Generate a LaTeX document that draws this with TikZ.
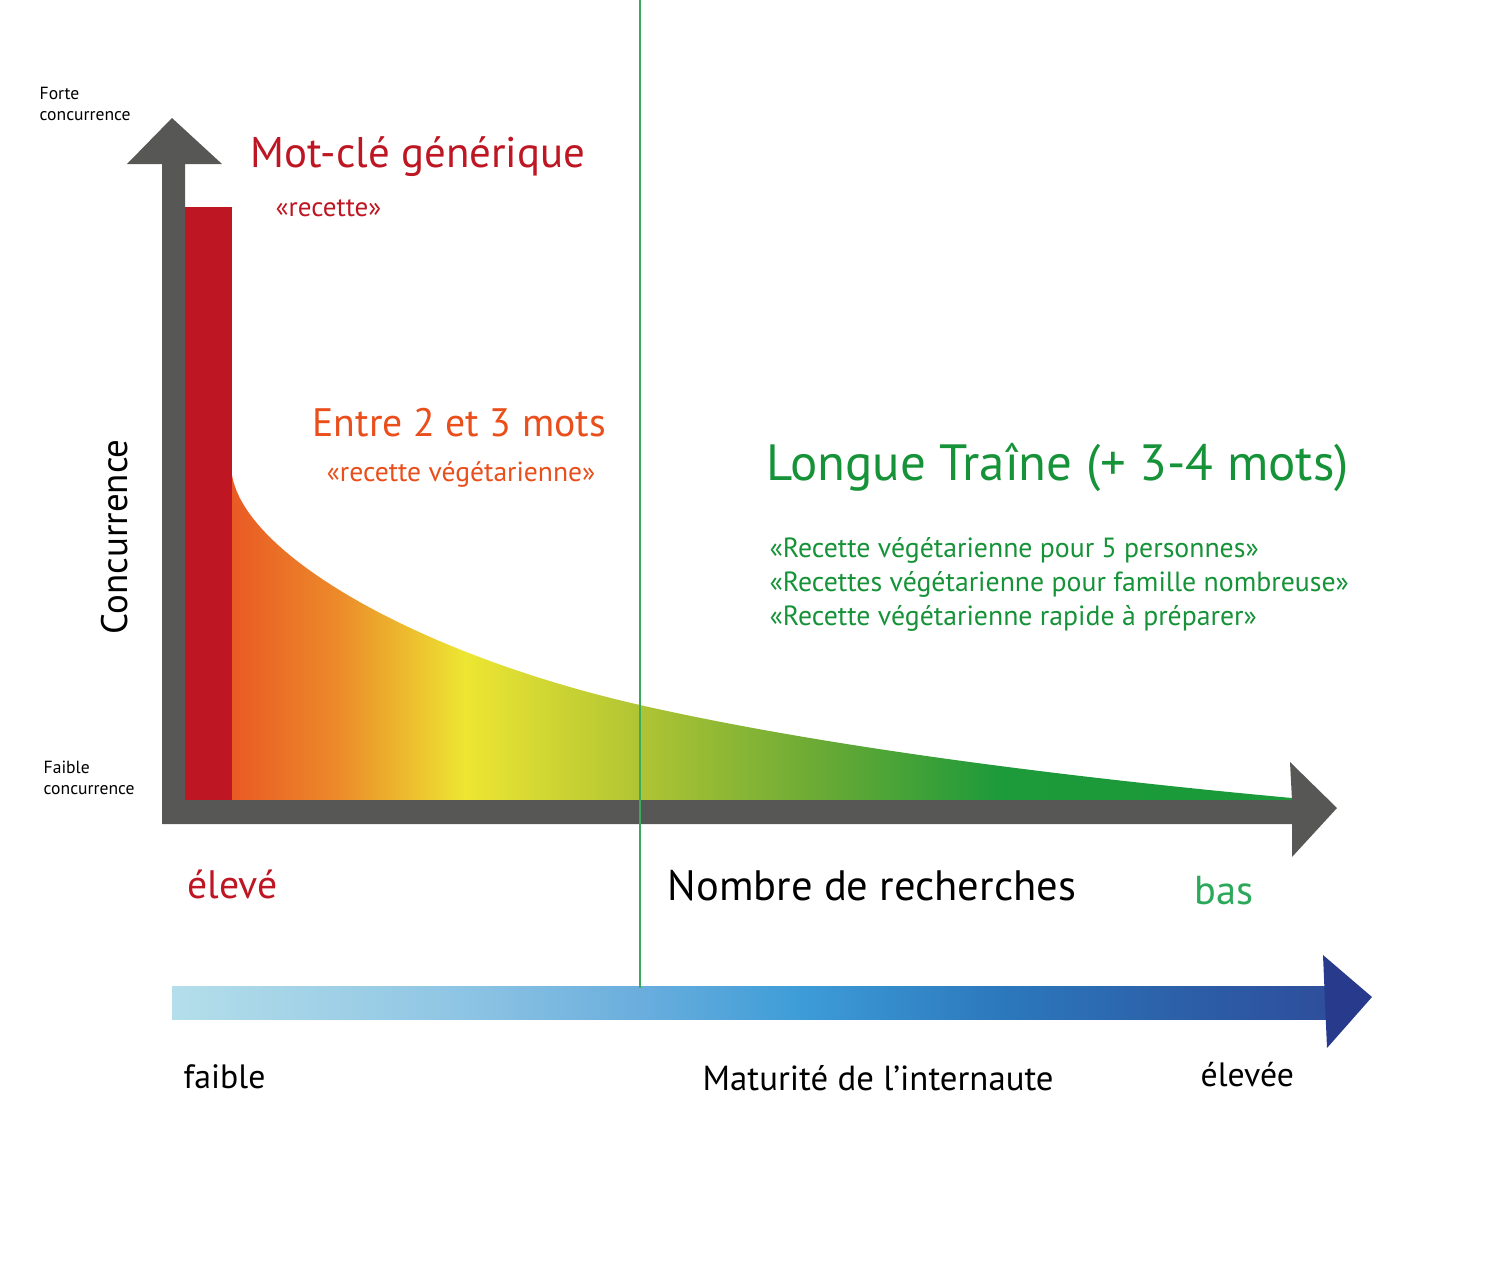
\documentclass[tikz,border=0pt]{standalone}
\usepackage{fontspec}
\setmainfont{PT Sans}
\usepackage{xcolor}
\usetikzlibrary{positioning}

\definecolor{axisgray}{HTML}{575756}
\definecolor{motred}{HTML}{BE1622}
\definecolor{midorange}{HTML}{E94E1B}
\definecolor{tailgreen}{HTML}{169238}
\definecolor{basgreen}{HTML}{2BA85A}
\definecolor{splitgreen}{HTML}{3AAA5E}
\definecolor{arrownavy}{HTML}{283A8C}

% colour ramp under the curve (25bp = left end, 75bp = right end)
\pgfdeclarehorizontalshading{tailramp}{100bp}{%
  color(0bp)=({rgb,255:red,233;green,90;blue,36});
  color(25bp)=({rgb,255:red,233;green,90;blue,36});
  color(30bp)=({rgb,255:red,236;green,138;blue,42});
  color(36bp)=({rgb,255:red,237;green,230;blue,50});
  color(44.2bp)=({rgb,255:red,176;green,196;blue,52});
  color(52.7bp)=({rgb,255:red,106;green,170;blue,53});
  color(61.2bp)=({rgb,255:red,29;green,154;blue,58});
  color(75bp)=({rgb,255:red,26;green,154;blue,58});
  color(100bp)=({rgb,255:red,26;green,154;blue,58})}
% colour ramp of the maturity arrow
\pgfdeclarehorizontalshading{maturamp}{100bp}{%
  color(0bp)=({rgb,255:red,180;green,222;blue,234});
  color(25bp)=({rgb,255:red,180;green,222;blue,234});
  color(37bp)=({rgb,255:red,144;green,198;blue,228});
  color(45.2bp)=({rgb,255:red,106;green,174;blue,221});
  color(52.2bp)=({rgb,255:red,61;green,156;blue,215});
  color(60.8bp)=({rgb,255:red,44;green,120;blue,188});
  color(69.5bp)=({rgb,255:red,44;green,93;blue,166});
  color(75bp)=({rgb,255:red,46;green,78;blue,156});
  color(100bp)=({rgb,255:red,46;green,78;blue,156})}

\begin{document}
\begin{tikzpicture}[every node/.style={inner sep=0pt, anchor=base west},
  axislabel/.style={font=\fontsize{5}{6.2}\selectfont, align=left, anchor=north west}]
  \useasboundingbox (0,0) rectangle (15,-12.84);

  % --- area under the curve ---
  \shade[shading=tailramp] (2.32,-8.00) -- (2.32,-4.75)
    .. controls (2.45,-5.55) and (4.20,-6.55) .. (6.40,-7.05)
    .. controls (8.60,-7.55) and (11.50,-7.85) .. (12.92,-7.98)
    -- (12.92,-8.00) -- cycle;
  % generic keyword bar
  \fill[motred] (1.85,-2.07) rectangle (2.32,-8.00);

  % --- axes ---
  \fill[axisgray] (1.62,-1.64) -- (1.27,-1.64) -- (1.72,-1.18) -- (2.22,-1.64)
    -- (1.85,-1.64) -- (1.85,-8.00) -- (12.92,-8.00) -- (12.90,-7.62)
    -- (13.37,-8.08) -- (12.92,-8.57) -- (12.92,-8.24) -- (1.62,-8.24) -- cycle;
  \node[axislabel] (forte) at (0.39,-0.86) {Forte\\concurrence};
  \node[axislabel] (faible) at (0.43,-7.60) {Faible\\concurrence};
  \node[rotate=90, font=\fontsize{10.5}{12}\selectfont] (conc) at (1.27,-6.35) {Concurrence};

  % --- keyword families ---
  \node[font=\fontsize{12.2}{14}\selectfont, motred] (generic) at (2.50,-1.67) {Mot-clé générique};
  \node[font=\fontsize{7.7}{9}\selectfont, motred] (genericex) at (2.75,-2.16) {«recette»};
  \node[font=\fontsize{11.3}{13}\selectfont, midorange] (mid) at (3.12,-4.36) {Entre 2 et 3 mots};
  \node[font=\fontsize{7.85}{9}\selectfont, midorange] (midex) at (3.26,-4.81) {«recette végétarienne»};
  \node[font=\fontsize{14.5}{17}\selectfont, tailgreen] (tail) at (7.66,-4.80) {Longue Traîne (+ 3-4 mots)};
  \node[font=\fontsize{7.9}{9.6}\selectfont, tailgreen, align=left, anchor=north west] (tailex) at (7.69,-5.37)
    {«Recette végétarienne pour 5 personnes»\\«Recettes végétarienne pour famille nombreuse»\\«Recette végétarienne rapide à préparer»};

  % --- search volume ---
  \node[font=\fontsize{11.3}{13}\selectfont, motred] (eleve) at (1.87,-8.98) {élevé};
  \node[font=\fontsize{12.1}{14}\selectfont] (nbrech) at (6.67,-9.00) {Nombre de recherches};
  \node[font=\fontsize{11.5}{13}\selectfont, basgreen] (bas) at (11.94,-9.04) {bas};

  % --- maturity arrow ---
  \shade[shading=maturamp] (1.72,-9.86) rectangle (13.30,-10.19);
  \fill[arrownavy] (13.23,-9.55) -- (13.72,-9.97) -- (13.27,-10.48) -- cycle;
  \node[font=\fontsize{9.6}{11}\selectfont] (lowmat) at (1.83,-10.88) {faible};
  \node[font=\fontsize{9.9}{11}\selectfont] (maturite) at (7.02,-10.90) {Maturité de l’internaute};
  \node[font=\fontsize{9.6}{11}\selectfont] (highmat) at (12.00,-10.86) {élevée};

  % split line
  \draw[splitgreen, line width=0.6pt] (6.40,0) -- (6.40,-9.88);
\end{tikzpicture}
\end{document}
